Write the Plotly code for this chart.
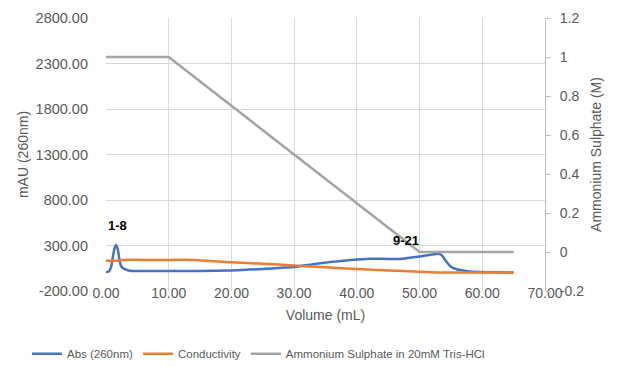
import plotly.graph_objects as go

# ---- data ----
abs_vol = [0, 0.4, 0.8, 1.1, 1.4, 1.6, 1.9, 2.2, 2.5, 3.0, 3.8, 5, 7, 10, 15, 20, 25, 28, 30, 33, 36, 39, 42, 45, 47, 49, 50.5, 52, 52.9, 53.5, 54.2, 55, 55.8, 56.5, 58, 60, 62, 65]
abs_mau = [9, 12, 60, 180, 280, 305, 250, 120, 64, 40, 22, 20, 20, 20, 21, 26, 42, 55, 64, 95, 120, 140, 155, 152, 153, 170, 185, 200, 210, 195, 130, 67, 42, 31, 14, 9, 6, 3]

cond_vol = [0, 2.0, 2.5, 8, 14, 20, 25, 30, 35, 40, 45, 50, 53, 58, 65]
cond_val = [133, 133, 141, 141, 141, 115, 100, 80, 60, 42, 25, 12, 3, 3, 3]

amm_vol = [0, 10, 50, 65]
amm_m = [1, 1, 0, 0]

x_ticks = [0, 10, 20, 30, 40, 50, 60, 70]
x_labels = [f"{v:.2f}" for v in x_ticks]
left_ticks = [-200, 300, 800, 1300, 1800, 2300, 2800]
left_labels = [f"{v:.2f}" for v in left_ticks]
right_ticks = [-0.2, 0, 0.2, 0.4, 0.6, 0.8, 1.0, 1.2]
right_labels = ["-0.2", "0", "0.2", "0.4", "0.6", "0.8", "1", "1.2"]

notes = [("1-8", 1.9, 525), ("9-21", 47.8, 360)]

FONT = "Liberation Sans, Arial, sans-serif"
GREY_TXT = "#595959"
GRID = "#D9D9D9"

fig = go.Figure()
fig.add_trace(go.Scatter(x=abs_vol, y=abs_mau, mode="lines", name="Abs (260nm)",
                         line=dict(color="#4472C4", width=2.5, shape="spline", smoothing=0.6)))
fig.add_trace(go.Scatter(x=cond_vol, y=cond_val, mode="lines", name="Conductivity",
                         line=dict(color="#ED7D31", width=2.5, shape="spline", smoothing=0.6)))
fig.add_trace(go.Scatter(x=amm_vol, y=amm_m, mode="lines", name="Ammonium Sulphate in 20mM Tris-HCl",
                         line=dict(color="#A5A5A5", width=2.5), yaxis="y2"))

for txt, xv, yv in notes:
    fig.add_annotation(x=xv, y=yv, text=f"<b>{txt}</b>", showarrow=False,
                       font=dict(family=FONT, size=13, color="black"))

fig.update_layout(
    width=625, height=367,
    margin=dict(l=106, r=80, t=18, b=76, autoexpand=False),
    paper_bgcolor="white", plot_bgcolor="white",
    font=dict(family=FONT, size=14, color=GREY_TXT),
    showlegend=True,
    legend=dict(orientation="h", x=-0.18, xanchor="left", y=-0.23, yanchor="middle",
                font=dict(size=11.5, color=GREY_TXT), tracegroupgap=0,
                bgcolor="rgba(0,0,0,0)"),
    xaxis=dict(range=[0, 70], tickvals=x_ticks, ticktext=x_labels, showgrid=True,
               gridcolor=GRID, gridwidth=1, zeroline=False, showline=False,
               ticklabelstandoff=-8, automargin=False,
               title=dict(text="Volume (mL)", font=dict(size=14, color=GREY_TXT), standoff=10)),
    yaxis=dict(range=[-200, 2800], tickvals=left_ticks, ticktext=left_labels, showgrid=True,
               gridcolor=GRID, gridwidth=1, zeroline=False, showline=False,
               ticklabelstandoff=17, automargin=False, tickfont=dict(size=14.5),
               title=dict(text="mAU (260nm)", font=dict(size=14, color=GREY_TXT), standoff=3)),
    yaxis2=dict(range=[-0.2, 1.2], tickvals=right_ticks, ticktext=right_labels, overlaying="y",
                side="right", showgrid=False, zeroline=False, showline=True, linecolor="#BFBFBF",
                ticks="outside", ticklen=5, tickcolor="#BFBFBF",
                ticklabelstandoff=6, automargin=False,
                title=dict(text="Ammonium Sulphate (M)", font=dict(size=14, color=GREY_TXT), standoff=8)),
)

fig.write_html("out.html", config={"displayModeBar": False},
               post_script="document.body.style.margin='0';")
